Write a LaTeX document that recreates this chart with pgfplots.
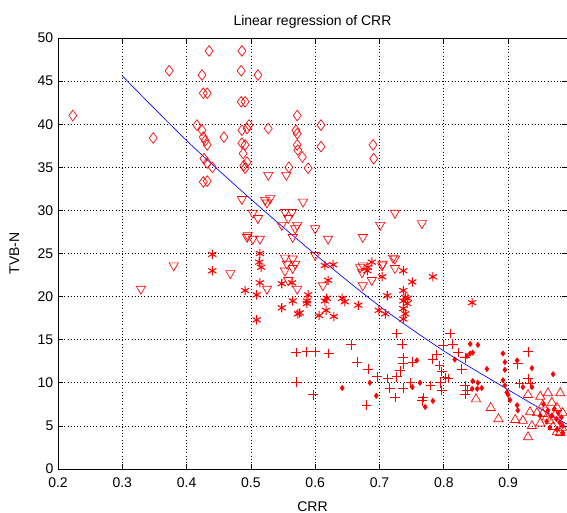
\documentclass[border=0pt]{standalone}
\usepackage{fontspec}
\setmainfont{Liberation Sans}
\usepackage{pgfplots}
\pgfplotsset{compat=1.18}

\definecolor{mred}{rgb}{1,0,0}
\definecolor{mblue}{rgb}{0,0,1}

\begin{document}
\begin{tikzpicture}
\begin{axis}[
    scale only axis,
    width=381.75pt, height=323.25pt,
    xmin=0.2, xmax=0.9916,
    ymin=0, ymax=50,
    xtick={0.2,0.3,...,0.91},
    ytick={0,5,...,50},
    xticklabel style={yshift=-3pt, /pgf/number format/.cd, fixed, fixed zerofill, precision=1},
    /pgf/number format/assume math mode=true,
    tick label style={font=\fontsize{10.5}{12}\selectfont},
    label style={font=\fontsize{10.5}{12}\selectfont},
    title style={font=\fontsize{10.5}{12}\selectfont, yshift=-2pt},
    title={Linear regression of CRR},
    xlabel={CRR}, ylabel={TVB-N},
    xlabel style={yshift=-3.5pt},
    ylabel style={yshift=7pt},
    grid=major,
    grid style={dotted, black, line width=0.5pt},
    tick align=inside,
    major tick length=3.5pt,
    tick style={black, line width=0.5pt},
    axis line style={line width=0.6pt},
    clip=false,
]
% diamonds
\addplot[mred, only marks, mark=diamond, mark size=4pt, mark options={solid, draw=mred, line width=0.5pt}] coordinates {
(0.223,41.0) (0.348,38.4) (0.373,46.2) (0.435,48.5) (0.486,48.5)
(0.424,45.7) (0.485,46.2) (0.511,45.7) (0.426,43.6) (0.432,43.6)
(0.485,42.6) (0.491,42.6) (0.416,39.9) (0.424,39.3) (0.426,38.5)
(0.429,38.1) (0.432,37.6) (0.458,38.5) (0.486,39.3) (0.494,39.5)
(0.497,39.9) (0.486,37.8) (0.491,37.6) (0.488,36.6) (0.489,35.2)
(0.491,34.9) (0.494,35.6) (0.427,36.0) (0.432,35.5) (0.440,35.0)
(0.426,33.3) (0.432,33.4) (0.527,39.5) (0.572,41.0) (0.570,39.3)
(0.572,38.9) (0.572,37.6) (0.573,37.0) (0.580,36.2) (0.589,34.9)
(0.559,35.0) (0.609,39.9) (0.609,37.4) (0.690,37.6) (0.691,36.0)
};
% triangles down
\addplot[mred, only marks, mark=triangle, mark size=4pt, mark options={solid, draw=mred, line width=0.5pt, rotate=180}] coordinates {
(0.329,20.9) (0.380,23.6) (0.468,22.7) (0.494,26.9) (0.486,31.3)
(0.527,34.1) (0.555,34.1) (0.522,31.2) (0.530,31.4) (0.581,31.0)
(0.525,30.9) (0.503,29.7) (0.511,29.1) (0.553,29.8) (0.564,29.8)
(0.558,29.1) (0.548,28.3) (0.572,28.3) (0.569,27.9) (0.495,27.1)
(0.503,26.7) (0.514,26.7) (0.565,26.9) (0.600,27.9) (0.620,26.7)
(0.674,26.9) (0.701,28.3) (0.724,29.7) (0.766,28.5) (0.553,24.5)
(0.565,24.4) (0.556,23.8) (0.569,23.8) (0.553,23.0) (0.565,23.3)
(0.558,21.9) (0.572,20.9) (0.600,24.8) (0.525,20.9) (0.612,21.3)
(0.674,23.6) (0.673,22.8) (0.688,21.9) (0.674,21.3) (0.704,23.6)
(0.724,24.4) (0.724,23.3) (0.721,24.5) (0.705,23.8) (0.670,23.4)
};
% asterisks
\addplot[mred, only marks, mark=asterisk, mark size=3.5pt, mark options={solid, draw=mred, line width=0.8pt}] coordinates {
(0.440,24.9) (0.440,23.0) (0.491,20.7) (0.514,25.0) (0.513,24.0)
(0.516,23.4) (0.514,21.6) (0.509,20.2) (0.548,21.5) (0.548,18.7)
(0.565,19.5) (0.564,21.6) (0.576,18.1) (0.573,18.0) (0.587,19.5)
(0.589,20.2) (0.587,19.2) (0.509,17.3) (0.615,23.6) (0.628,23.7)
(0.620,21.9) (0.615,19.5) (0.618,19.8) (0.617,18.4) (0.606,17.8)
(0.629,17.7) (0.642,19.8) (0.646,19.4) (0.667,19.0) (0.699,18.4)
(0.709,18.0) (0.688,24.0) (0.682,23.4) (0.681,23.0) (0.704,22.3)
(0.737,23.0) (0.751,21.7) (0.737,20.7) (0.740,19.9) (0.737,19.5)
(0.743,19.2) (0.737,18.6) (0.740,18.0) (0.737,17.4) (0.744,19.8)
(0.783,22.3) (0.712,20.1) (0.844,19.3)
};
% plus
\addplot[mred, only marks, mark=+, mark size=3.6pt, mark options={solid, draw=mred, line width=0.6pt}] coordinates {
(0.570,13.5) (0.587,13.6) (0.600,13.6) (0.621,13.4) (0.570,10.1)
(0.597,8.6) (0.656,14.4) (0.665,12.4) (0.682,11.6) (0.696,10.7)
(0.680,7.4) (0.713,10.5) (0.716,9.4) (0.724,8.3) (0.727,10.7)
(0.727,15.7) (0.735,14.5) (0.737,12.9) (0.737,12.2) (0.732,11.4)
(0.751,12.4) (0.748,10.0) (0.737,9.4) (0.783,12.7) (0.789,13.3)
(0.793,12.0) (0.797,11.3) (0.794,10.0) (0.797,9.1) (0.802,10.6)
(0.807,10.5) (0.799,14.3) (0.810,15.7) (0.814,14.5) (0.779,9.7)
(0.768,8.3) (0.766,7.9) (0.822,13.5) (0.833,12.9) (0.828,11.6)
(0.833,9.7) (0.836,9.1) (0.833,8.7) (0.915,12.2) (0.931,13.6)
(0.931,10.5) (0.934,9.9) (0.918,9.9)
};
% dots
\addplot[mred, only marks, mark=diamond*, mark size=2pt, mark options={solid, draw=mred, fill=mred}] coordinates {
(0.642,9.4) (0.685,10.0) (0.695,8.5) (0.758,12.6) (0.763,10.0)
(0.771,7.2) (0.783,7.9) (0.751,9.5) (0.841,14.5) (0.853,14.4)
(0.841,13.4) (0.845,13.5) (0.836,13.1) (0.867,11.6) (0.817,12.7)
(0.845,10.2) (0.853,10.0) (0.859,9.4) (0.852,9.3) (0.844,9.3)
(0.892,13.4) (0.895,12.4) (0.895,11.5) (0.892,10.3) (0.895,9.7)
(0.898,8.9) (0.900,8.6) (0.903,8.0) (0.914,12.6) (0.937,11.7)
(0.923,9.5) (0.937,9.5) (0.914,7.4) (0.915,6.8) (0.970,11.0)
(0.955,7.5) (0.962,6.8) (0.968,6.2) (0.975,5.8) (0.980,5.4)
(0.985,5.0) (0.960,5.5) (0.972,7.0) (0.978,6.5) (0.983,6.0)
(0.950,6.2) (0.965,4.8) (0.976,4.6) (0.985,4.2)
};
% triangles up
\addplot[mred, only marks, mark=triangle, mark size=4pt, mark options={solid, draw=mred, line width=0.5pt}] coordinates {
(0.850,8.1) (0.873,7.1) (0.885,5.8) (0.911,5.7) (0.923,5.6)
(0.931,3.7) (0.931,8.6) (0.950,8.4) (0.962,8.8) (0.981,8.8)
(0.954,7.4) (0.968,7.7) (0.934,6.6) (0.945,6.5) (0.960,6.0)
(0.973,6.3) (0.985,6.5) (0.950,5.3) (0.970,4.9) (0.984,4.8)
(0.976,4.3) (0.937,5.0) (0.965,5.6) (0.976,7.1) (0.981,4.2)
(0.954,6.4)
};
% regression line
\addplot[mblue, line width=0.5pt, smooth, no markers] coordinates {
(0.3,45.6) (0.4,38.1) (0.5,31.3) (0.6,24.9) (0.7,18.9) (0.8,13.7) (0.9,9.2) (0.9916,5.2)
};
\end{axis}
\pgfresetboundingbox
\path (current axis.south west) ++(-43.5pt,-33pt) coordinate (bbA);
\path (current axis.north east) ++(0pt,28.5pt) coordinate (bbB);
\path (bbA) rectangle (bbB);
\end{tikzpicture}
\end{document}
